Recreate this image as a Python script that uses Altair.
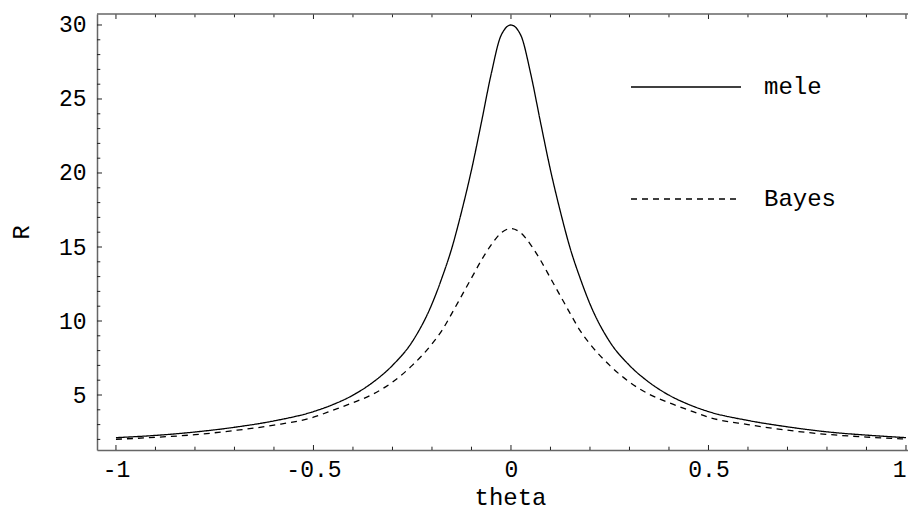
import altair as alt
import pandas as pd

# ---- data ----
theta = [-1.0, -0.9, -0.8, -0.7, -0.6, -0.5, -0.45, -0.4, -0.35, -0.3, -0.25, -0.2,
         -0.175, -0.15, -0.125, -0.1, -0.075, -0.05, -0.025, 0.0,
         0.025, 0.05, 0.075, 0.1, 0.125, 0.15, 0.175, 0.2, 0.25, 0.3, 0.35, 0.4,
         0.45, 0.5, 0.6, 0.7, 0.8, 0.9, 1.0]
mele = [2.12, 2.27, 2.50, 2.82, 3.25, 3.88, 4.36, 4.99, 5.85, 7.0, 8.6, 11.15,
        12.9, 14.9, 17.4, 20.2, 23.4, 26.7, 29.3, 30.0,
        29.3, 26.7, 23.4, 20.2, 17.4, 14.9, 12.9, 11.15, 8.6, 7.0, 5.85, 4.99,
        4.36, 3.88, 3.28, 2.85, 2.51, 2.29, 2.12]
bayes = [2.01, 2.14, 2.32, 2.60, 2.96, 3.50, 3.98, 4.48, 5.05, 5.87, 7.0, 8.45,
         9.35, 10.5, 11.7, 12.9, 14.1, 15.15, 15.95, 16.25,
         15.95, 15.15, 14.1, 12.9, 11.7, 10.5, 9.35, 8.45, 7.0, 5.87, 5.05, 4.48,
         3.98, 3.50, 3.00, 2.62, 2.34, 2.16, 2.02]
series_names = ["mele", "Bayes"]

x_tick_labels = [-1, -0.5, 0, 0.5, 1]
x_minor_ticks = [-0.9, -0.8, -0.7, -0.6, -0.4, -0.3, -0.2, -0.1,
                 0.1, 0.2, 0.3, 0.4, 0.6, 0.7, 0.8, 0.9]
y_tick_labels = [5, 10, 15, 20, 25, 30]
y_minor_ticks = [2, 3, 4, 6, 7, 8, 9, 11, 12, 13, 14, 16, 17, 18, 19,
                 21, 22, 23, 24, 26, 27, 28, 29]

# ---- layout / style ----
W, H = 811, 436
XDOM = [-1.048, 1.0051]
YDOM = [1.284, 30.743]
FONT = "Liberation Mono"
FRAME = "#666666"
TICK = "#222222"

curves = pd.DataFrame({
    "theta": theta * 2,
    "R": mele + bayes,
    "series": [series_names[0]] * len(theta) + [series_names[1]] * len(theta),
})

xs = alt.Scale(domain=XDOM, nice=False, zero=False)
ys = alt.Scale(domain=YDOM, nice=False, zero=False)

x_axis = alt.Axis(values=x_tick_labels, labelExpr="'' + datum.value",
                  ticks=False, grid=False, title="theta", labelFlush=3,
                  labelPadding=8, titlePadding=4, titleX=413)
y_axis = alt.Axis(values=y_tick_labels, labelExpr="'' + datum.value",
                  ticks=False, grid=False, title="R",
                  labelPadding=11, titlePadding=25)

lines = alt.Chart(curves).mark_line(
    interpolate="monotone", color="black", strokeWidth=1.3
).encode(
    x=alt.X("theta:Q", scale=xs, axis=x_axis),
    y=alt.Y("R:Q", scale=ys, axis=y_axis),
    strokeDash=alt.StrokeDash("series:N",
                              scale=alt.Scale(domain=series_names, range=[[1, 0], [6, 5]]),
                              legend=None),
    detail="series:N",
)


def xticks(vals, y0, y1):
    return alt.Chart(pd.DataFrame({"theta": vals})).mark_rule(color=TICK, strokeWidth=1).encode(
        x=alt.X("theta:Q", scale=xs, axis=x_axis), y=alt.value(y0), y2=alt.value(y1))


def yticks(vals, length):
    return alt.Chart(pd.DataFrame({"R": vals})).mark_rule(color=TICK, strokeWidth=1).encode(
        y=alt.Y("R:Q", scale=ys, axis=y_axis), x=alt.value(0), x2=alt.value(length))


top_line = alt.Chart(pd.DataFrame({"a": [0]})).mark_rule(color=FRAME, strokeWidth=1.5).encode(
    x=alt.value(0), x2=alt.value(W), y=alt.value(0))

one = pd.DataFrame({"a": [0]})
leg_mele_line = alt.Chart(one).mark_rule(color="black", strokeWidth=1.3).encode(
    x=alt.value(534), x2=alt.value(644), y=alt.value(73))
leg_bayes_line = alt.Chart(one).mark_rule(color="black", strokeWidth=1.3, strokeDash=[6, 5]).encode(
    x=alt.value(534), x2=alt.value(644), y=alt.value(185))
leg_mele_text = alt.Chart(one).mark_text(
    align="left", baseline="alphabetic", font=FONT, fontSize=24, color="black"
).encode(x=alt.value(667), y=alt.value(80), text=alt.value(series_names[0]))
leg_bayes_text = alt.Chart(one).mark_text(
    align="left", baseline="alphabetic", font=FONT, fontSize=24, color="black"
).encode(x=alt.value(667), y=alt.value(192), text=alt.value(series_names[1]))

chart = alt.layer(
    lines,
    xticks(x_tick_labels, H, H - 5),
    xticks(x_minor_ticks, H, H - 3.3),
    xticks(x_tick_labels, 0, 5),
    xticks(x_minor_ticks, 0, 3.3),
    yticks(y_tick_labels, 5),
    yticks(y_minor_ticks, 3.3),
    top_line,
    leg_mele_line, leg_bayes_line, leg_mele_text, leg_bayes_text,
).properties(
    width=W, height=H,
    autosize=alt.AutoSizeParams(type="none"),
    padding={"left": 89, "top": 6, "right": 0, "bottom": 62},
    background="white",
).configure_view(stroke=None).configure_axis(
    domainColor=FRAME, domainWidth=1.5,
    labelFont=FONT, labelFontSize=23, labelColor="black",
    titleFont=FONT, titleFontSize=24, titleFontWeight="normal", titleColor="black",
)

chart.save("out.html", embed_options={"renderer": "svg", "actions": False})
